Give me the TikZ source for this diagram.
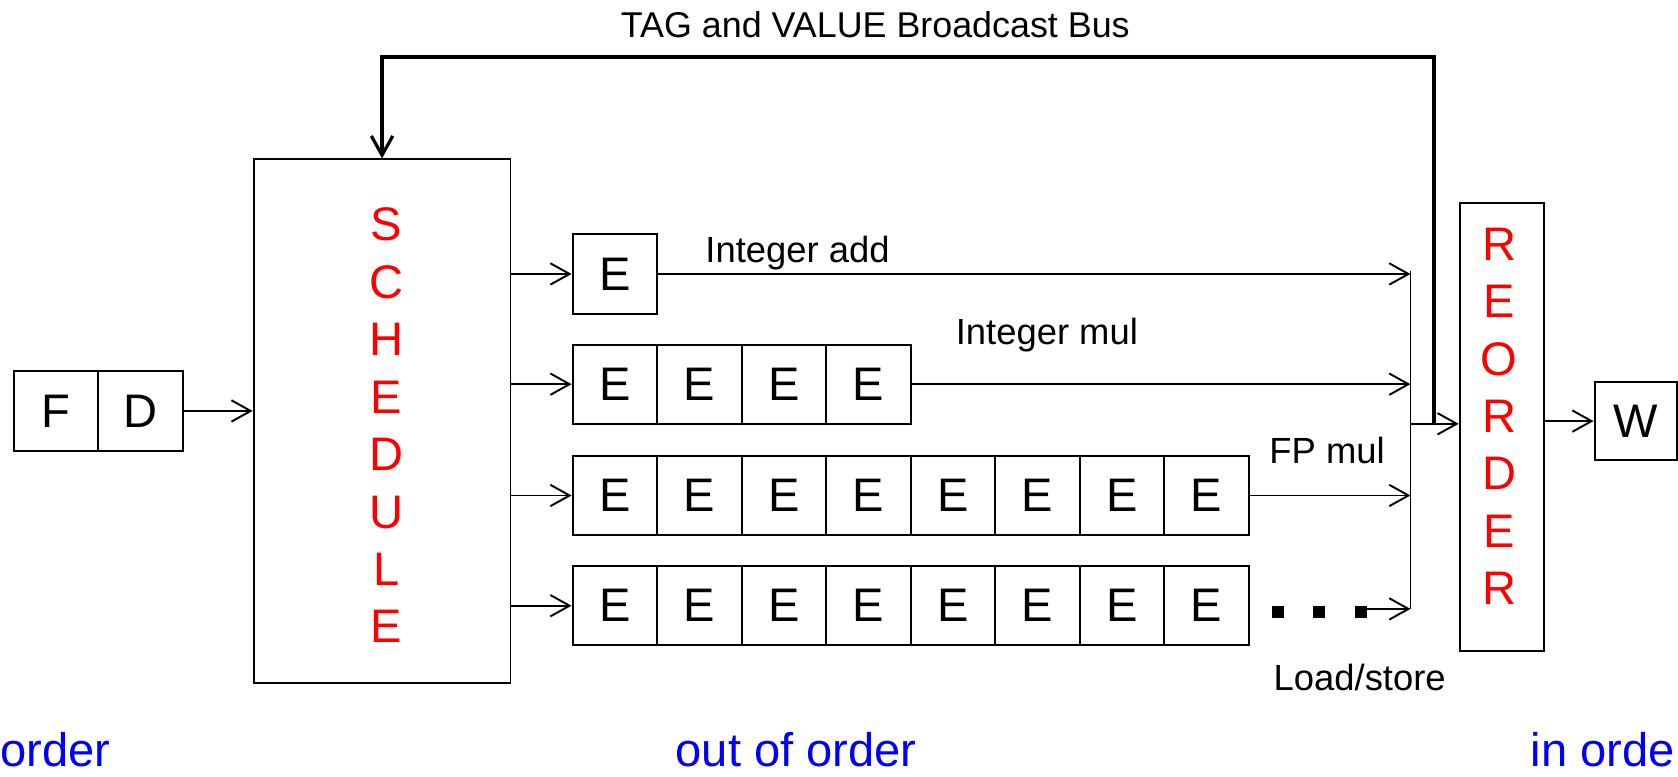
\documentclass[tikz,border=0pt]{standalone}
\usepackage{fontspec}
\setmainfont{Liberation Sans}
\usetikzlibrary{arrows.meta, positioning, calc}

\begin{document}
\begin{tikzpicture}[
  x=1pt, y=-1pt,
  every node/.style={font=\fontsize{44}{53.7}\selectfont, align=center},
  stage/.style={rectangle, draw, line width=1.8pt, minimum width=79pt, minimum height=74pt, inner sep=0pt},
  unit/.style={rectangle, draw, line width=1.8pt, inner sep=0pt},
  letters/.style={text=red, inner sep=0pt},
  wire/.style={draw, line width=1.8pt, -{Straight Barb[length=18pt, width=20pt, line width=1.8pt]}},
  bus/.style={draw, line width=4pt},
  unit label/.style={font=\fontsize{34}{40}\selectfont, anchor=base west, inner sep=0pt},
  phase/.style={font=\fontsize{44}{50}\selectfont, text=blue, inner sep=0pt, text depth=0pt},
  dot/.style={rectangle, fill, minimum size=11pt, inner sep=0pt}
]
\useasboundingbox (0,0) rectangle (1568,726);

% front end
\node[stage] (fetch) at (52.5,384) {F};
\node[stage, right=-1.8pt of fetch] (decode) {D};

% scheduler and reorder buffer
\node[unit, minimum width=240pt, minimum height=489pt] (sched) at (357,393.5) {};
\node[letters] (sched-txt) at (361,397.5) {S\\C\\H\\E\\D\\U\\L\\E};
\node[unit, minimum width=79pt, minimum height=418pt] (reorder) at (1403.5,399) {};
\node[letters] (reorder-txt) at (1401,389) {R\\E\\O\\R\\D\\E\\R};
\node[stage, minimum width=77pt, minimum height=73pt] (wb) at (1528.5,393.5) {W};

\draw[wire] (decode) -- (sched.west |- decode);

% execution pipelines
\coordinate (col-top) at (1318,253);
\coordinate (col-bot) at (1318,569);
\foreach \row/\n/\y in {add/1/256, imul/4/359, fmul/8/463, mem/8/566} {
  \foreach \i in {1,...,\n}
    \node[stage] (e-\row-\i) at ({574.5+79*(\i-1)},\y) {E};
  \draw[wire] (sched.east |- e-\row-1.west) -- (e-\row-1.west);
}
\foreach \row/\n in {add/1, imul/4, fmul/8}
  \draw[wire] (e-\row-\n.east) -- (e-\row-\n.east -| col-top);

% load/store tail
\node[dot] (dot-1) at (1194.5,572) {};
\node[dot] (dot-2) at (1232.5,572) {};
\node[dot] (dot-3) at (1272,572) {};
\draw[wire] (dot-3.east |- col-bot) -- (col-bot);

\node[unit label] (l-add) at (659,245) {Integer add};
\node[unit label] (l-imul) at (893,322) {Integer mul};
\node[unit label] (l-fmul) at (1186,433) {FP mul};
\node[unit label] (l-mem) at (1190,645) {Load/store};

% result collection and broadcast
\draw[line width=1.8pt] (col-top) -- (col-bot);
\coordinate (join) at (1318,396);
\draw[wire] (join) -- (join -| reorder.west);
\draw[wire] (reorder.east |- wb.west) -- (wb.west);

\coordinate (bus-r) at (1340,53);
\coordinate (bus-l) at (357,53);
\draw[bus, -{Straight Barb[length=18pt, width=20pt, line width=3pt]}] (1340,396) -- (bus-r) -- (bus-l) -- (sched.north);
\node[font=\fontsize{33.5}{40}\selectfont, anchor=base west, inner sep=0pt] (bus-title) at (580,35) {TAG and VALUE Broadcast Bus};

% phases
\node[phase, anchor=base west] (ph-in) at (0,716) {order};
\node[phase, anchor=base] (ph-ooo) at (744,716) {out of order};
\node[phase, anchor=base west] (ph-out) at (1430,716) {in orde};
\end{tikzpicture}
\end{document}
